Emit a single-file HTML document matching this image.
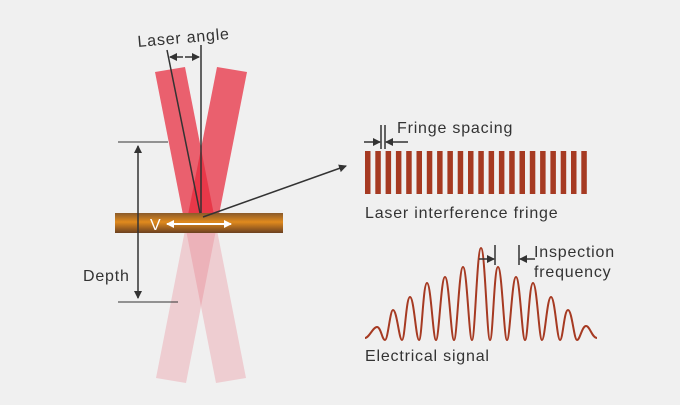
<!DOCTYPE html>
<html><head><meta charset="utf-8"><style>
html,body{margin:0;padding:0;background:#f0f0f0;}
svg{display:block;}
text{font-family:"Liberation Sans",sans-serif;fill:#333;letter-spacing:0.8px;}
</style></head><body>
<svg width="680" height="405" viewBox="0 0 680 405" xmlns="http://www.w3.org/2000/svg">
<defs>
<marker id="ah" markerWidth="8" markerHeight="8" refX="7" refY="4" orient="auto" markerUnits="userSpaceOnUse"><path d="M0,0 L8,4 L0,8 z" fill="#333"/></marker>
<marker id="aw" markerWidth="8" markerHeight="8" refX="7" refY="4" orient="auto" markerUnits="userSpaceOnUse"><path d="M0,0 L8,4 L0,8 z" fill="#fff"/></marker>
<linearGradient id="pipe" x1="0" y1="0" x2="0" y2="1">
<stop offset="0" stop-color="#8a5a2a"/><stop offset="0.45" stop-color="#e08a1e"/><stop offset="1" stop-color="#6b4020"/>
</linearGradient>
<clipPath id="up"><rect x="0" y="0" width="680" height="214"/></clipPath>
<clipPath id="dn"><rect x="0" y="214" width="680" height="200"/></clipPath>
</defs>
<g clip-path="url(#up)">
<polygon points="155,72 185,67 246,378 216,383" fill="rgba(232,40,60,0.72)"/>
<polygon points="217,67 247,72 186,383 156,378" fill="rgba(232,40,60,0.72)"/>
</g>
<g clip-path="url(#dn)">
<polygon points="155,72 185,67 246,378 216,383" fill="rgba(232,80,100,0.22)"/>
<polygon points="217,67 247,72 186,383 156,378" fill="rgba(232,80,100,0.22)"/>
</g>
<rect x="115" y="213" width="168" height="20" fill="url(#pipe)"/>
<line x1="167" y1="50" x2="200" y2="213" stroke="#333" stroke-width="1.5"/>
<line x1="201" y1="45" x2="201" y2="213" stroke="#333" stroke-width="1.5"/>
<line x1="183" y1="57" x2="170" y2="57" stroke="#333" stroke-width="1.5" marker-end="url(#ah)"/>
<line x1="185" y1="57" x2="199" y2="57" stroke="#333" stroke-width="1.5" marker-end="url(#ah)"/>
<text x="138" y="47" font-size="16" transform="rotate(-5 138 47)">Laser angle</text>
<line x1="118" y1="142" x2="168" y2="142" stroke="#333" stroke-width="1"/>
<line x1="118" y1="302" x2="178" y2="302" stroke="#333" stroke-width="1"/>
<line x1="138" y1="220" x2="138" y2="146" stroke="#333" stroke-width="1.5" marker-end="url(#ah)"/>
<line x1="138" y1="220" x2="138" y2="298" stroke="#333" stroke-width="1.5" marker-end="url(#ah)"/>
<text x="83" y="281" font-size="16">Depth</text>
<line x1="203" y1="217" x2="346" y2="166" stroke="#333" stroke-width="1.5" marker-end="url(#ah)"/>
<text x="150" y="230" font-size="16" style="fill:#fff">V</text>
<line x1="195" y1="224" x2="167" y2="224" stroke="#fff" stroke-width="2" marker-end="url(#aw)"/>
<line x1="195" y1="224" x2="231" y2="224" stroke="#fff" stroke-width="2" marker-end="url(#aw)"/>
<g fill="#a63a22">
<rect x="365" y="151" width="5.5" height="43"/><rect x="375.3" y="151" width="5.5" height="43"/><rect x="385.6" y="151" width="5.5" height="43"/><rect x="395.9" y="151" width="5.5" height="43"/><rect x="406.2" y="151" width="5.5" height="43"/><rect x="416.5" y="151" width="5.5" height="43"/><rect x="426.8" y="151" width="5.5" height="43"/><rect x="437.1" y="151" width="5.5" height="43"/><rect x="447.4" y="151" width="5.5" height="43"/><rect x="457.7" y="151" width="5.5" height="43"/><rect x="468" y="151" width="5.5" height="43"/><rect x="478.3" y="151" width="5.5" height="43"/><rect x="488.6" y="151" width="5.5" height="43"/><rect x="498.9" y="151" width="5.5" height="43"/><rect x="509.2" y="151" width="5.5" height="43"/><rect x="519.5" y="151" width="5.5" height="43"/><rect x="529.8" y="151" width="5.5" height="43"/><rect x="540.1" y="151" width="5.5" height="43"/><rect x="550.4" y="151" width="5.5" height="43"/><rect x="560.7" y="151" width="5.5" height="43"/><rect x="571" y="151" width="5.5" height="43"/><rect x="581.3" y="151" width="5.5" height="43"/>
</g>
<line x1="381" y1="125" x2="381" y2="149" stroke="#333" stroke-width="1.5"/>
<line x1="385" y1="125" x2="385" y2="149" stroke="#333" stroke-width="1.5"/>
<line x1="364" y1="142" x2="380" y2="142" stroke="#333" stroke-width="1.5" marker-end="url(#ah)"/>
<line x1="408" y1="142" x2="386" y2="142" stroke="#333" stroke-width="1.5" marker-end="url(#ah)"/>
<text x="397" y="133" font-size="16">Fringe spacing</text>
<text x="365" y="218" font-size="16">Laser interference fringe</text>
<path d="M365,338 C369,338 373,327 377,327 C381,327 382,340 385,340 C388,340 390,310 393,310 C397,310 399,340 402,340 C405,340 406,297 410,297 C414,297 416,340 419,340 C422,340 423,283 427,283 C431,283 433,340 436,340 C439,340 441,277 445,277 C449,277 451,340 454,340 C457,340 459,267 463,267 C467,267 469,340 472,340 C475,340 477,248 481,248 C485,248 487,340 490,340 C493,340 494,267 498,267 C502,267 504,340 507,340 C510,340 512,277 516,277 C520,277 522,340 525,340 C528,340 529,283 533,283 C537,283 539,340 542,340 C545,340 547,297 551,297 C555,297 557,340 560,340 C563,340 564,310 568,310 C572,310 574,340 577,340 C580,340 582,326 586,326 C590,326 592,338 597,338" fill="none" stroke="#a63a22" stroke-width="2"/>
<line x1="495" y1="245" x2="495" y2="265" stroke="#333" stroke-width="1.5"/>
<line x1="519" y1="245" x2="519" y2="265" stroke="#333" stroke-width="1.5"/>
<line x1="479" y1="259" x2="494" y2="259" stroke="#333" stroke-width="1.5" marker-end="url(#ah)"/>
<line x1="535" y1="259" x2="520" y2="259" stroke="#333" stroke-width="1.5" marker-end="url(#ah)"/>
<text x="534" y="257" font-size="16">Inspection</text>
<text x="534" y="277" font-size="16">frequency</text>
<text x="365" y="361" font-size="16">Electrical signal</text>
</svg>
</body></html>
